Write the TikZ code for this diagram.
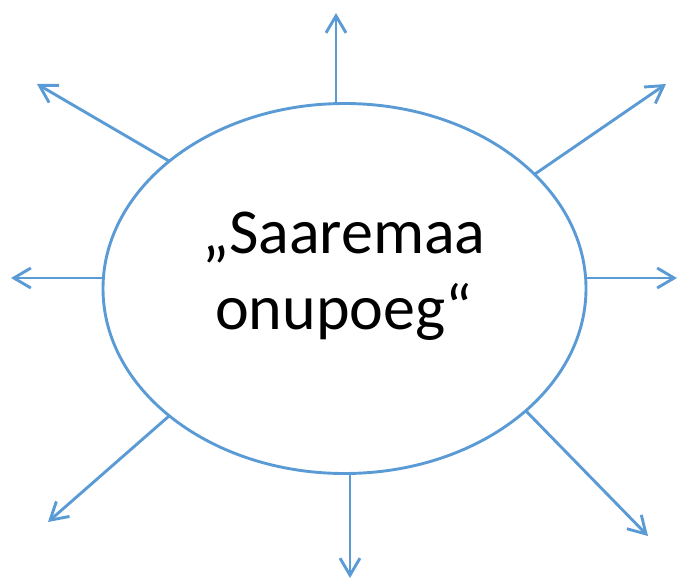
\documentclass[tikz,border=0pt]{standalone}
\usepackage{fontspec}
\setmainfont{Carlito}
\definecolor{rayblue}{RGB}{91, 155, 213}
\usetikzlibrary{arrows.meta}
\usetikzlibrary{positioning}
\usetikzlibrary{shapes}
\tikzset{
    ray/.style={-{Straight Barb[length=17pt, width=20pt]}, draw=rayblue, line width=2.9pt},
    oval/.style = {
      ellipse,
      draw=rayblue,
      line width=2.9pt,
      minimum width=483pt,
      minimum height=370pt,
      inner sep=0pt,
      outer sep=0pt
    },
    title/.style = {
      align=center,
      font=\fontsize{64}{76}\selectfont
    },
}
\begin{document}
\begin{tikzpicture}[x=1pt, y=-1pt]
      \useasboundingbox (0,0) rectangle (679,581);

      \node[oval] (uncle) at (344.5,288.5) {};
      \node[title] (name) at (344,276) {„Saaremaa\\onupoeg“};

      \coordinate (n) at (336,13);
      \coordinate (nw) at (37,84);
      \coordinate (ne) at (666,84);
      \coordinate (w) at (11,278);
      \coordinate (e) at (677,278);
      \coordinate (sw) at (48,522);
      \coordinate (s) at (350,578);
      \coordinate (se) at (648,536);

      \draw[ray] (n |- uncle.north) -- (n);
      \draw[ray] (uncle.144.6) -- (nw);
      \draw[ray] (uncle.31.6) -- (ne);
      \draw[ray] (w -| uncle.west) -- (w);
      \draw[ray] (e -| uncle.east) -- (e);
      \draw[ray] (uncle.216) -- (sw);
      \draw[ray] (s |- uncle.south) -- (s);
      \draw[ray] (uncle.326.1) -- (se);
\end{tikzpicture}
\end{document}
